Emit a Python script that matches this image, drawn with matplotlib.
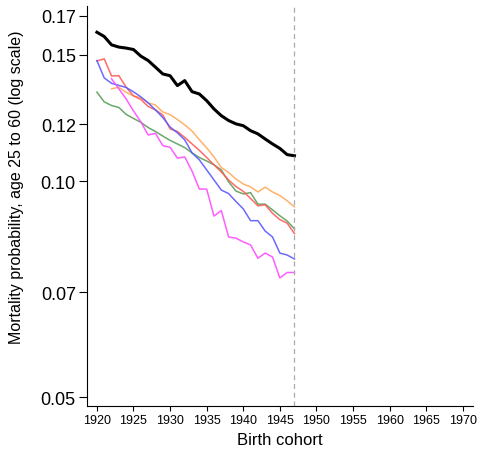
import numpy as np
import matplotlib
matplotlib.use("Agg")
import matplotlib.pyplot as plt

plt.rcParams['font.family'] = ['Liberation Sans', 'DejaVu Sans']

years = list(range(1920, 1948))
nan = np.nan

# all-group series (thick black)
all_groups = [0.1613, 0.1591, 0.1549, 0.1538, 0.1533, 0.1526, 0.1494, 0.1473, 0.1442, 0.1411,
              0.1403, 0.1359, 0.1381, 0.1333, 0.1323, 0.1295, 0.1261, 0.1234, 0.1215, 0.1202,
              0.1195, 0.1176, 0.1164, 0.1145, 0.1127, 0.1111, 0.1089, 0.1085]
red = [0.1471, 0.1481, 0.1402, 0.1403, 0.1352, 0.1315, 0.1300, 0.1271, 0.1257, 0.1237,
       0.1183, 0.1173, 0.1151, 0.1127, 0.1104, 0.1079, 0.1054, 0.1030, 0.1004, 0.0983,
       0.0968, 0.0946, 0.0924, 0.0927, 0.0902, 0.0884, 0.0874, 0.0845]
blue = [0.1473, 0.1393, 0.1369, 0.1360, 0.1351, 0.1332, 0.1311, 0.1286, 0.1257, 0.1227,
        0.1190, 0.1168, 0.1142, 0.1095, 0.1071, 0.1037, 0.1004, 0.0972, 0.0961, 0.0937,
        0.0915, 0.0881, 0.0881, 0.0852, 0.0836, 0.0794, 0.0789, 0.0779]
green = [0.1331, 0.1290, 0.1275, 0.1267, 0.1239, 0.1223, 0.1208, 0.1188, 0.1173, 0.1156,
         0.1140, 0.1127, 0.1114, 0.1095, 0.1079, 0.1067, 0.1054, 0.1037, 0.0998, 0.0969,
         0.0960, 0.0964, 0.0929, 0.0929, 0.0912, 0.0895, 0.0880, 0.0858]
orange = [nan, nan, 0.1345, 0.1352, 0.1330, 0.1315, 0.1307, 0.1286, 0.1277, 0.1249,
          0.1238, 0.1219, 0.1198, 0.1175, 0.1142, 0.1113, 0.1081, 0.1045, 0.1028, 0.1007,
          0.0991, 0.0982, 0.0966, 0.0981, 0.0966, 0.0955, 0.0939, 0.0921]
magenta = [nan, nan, 0.1389, 0.1345, 0.1302, 0.1253, 0.1210, 0.1160, 0.1166, 0.1121,
           0.1115, 0.1077, 0.1081, 0.1033, 0.0975, 0.0975, 0.0894, 0.0910, 0.0836, 0.0833,
           0.0823, 0.0815, 0.0781, 0.0794, 0.0784, 0.0733, 0.0746, 0.0746]

yticks = [0.05, 0.07, 0.10, 0.12, 0.15, 0.17]
ytick_labels = ["0.05", "0.07", "0.10", "0.12", "0.15", "0.17"]
xticks = list(range(1920, 1975, 5))

fig = plt.figure(figsize=(4.8, 4.52), dpi=100)
ax = fig.add_axes([0.181, 0.0996, 0.804, 0.885])

lw = 1.1
ax.plot(years, green, color='#5aa05a', lw=lw, alpha=0.9)
ax.plot(years, orange, color='#ffaa5a', lw=lw, alpha=0.9)
ax.plot(years, red, color='#ff5a5a', lw=lw, alpha=0.9)
ax.plot(years, blue, color='#5a5aff', lw=lw, alpha=0.9)
ax.plot(years, magenta, color='#ff4cff', lw=lw, alpha=0.9)
ax.plot(years, all_groups, color='black', lw=2.2)

ax.axvline(1947, color='#aaaaaa', lw=0.9, ls=(0, (4, 3)))

ax.set_yscale('log')
ax.set_ylim(0.0486, 0.1755)
ax.set_xlim(1918.63, 1971.37)
ax.set_yticks(yticks)
ax.set_yticklabels(ytick_labels)
ax.yaxis.set_minor_locator(matplotlib.ticker.NullLocator())
ax.set_xticks(xticks)

ax.tick_params(axis='y', labelsize=13, length=6, width=0.8, pad=2)
ax.tick_params(axis='x', labelsize=9, length=3.5, width=0.8, pad=2)

ax.spines['top'].set_visible(False)
ax.spines['right'].set_visible(False)

ax.set_xlabel("Birth cohort", fontsize=12)
ax.xaxis.set_label_coords(0.5, -0.065)
ax.set_ylabel("Mortality probability, age 25 to 60 (log scale)", fontsize=11.5)
ax.yaxis.set_label_coords(-0.163, 0.55)

fig.savefig("out.png", dpi=100)
